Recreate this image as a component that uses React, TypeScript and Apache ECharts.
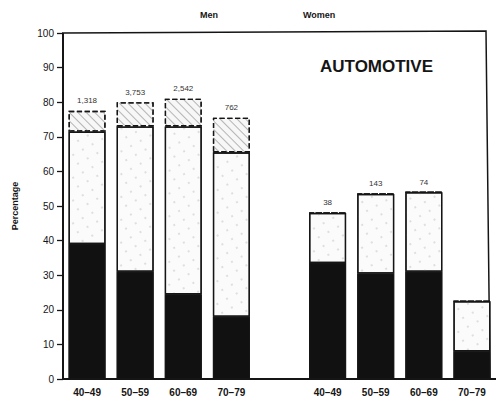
import React, { useEffect, useRef } from "react";
import * as echarts from "echarts";

const categories = ["40–49", "50–59", "60–69", "70–79", "", "40–49", "50–59", "60–69", "70–79"];
const blackValues = [39, 31, 24.5, 18, null, 33.5, 30.5, 31, 8];
const dottedValues = [32.5, 42, 48.5, 47.5, null, 14.5, 23, 23, 14.5];
const hatchedValues = [6, 7, 8, 10, null, 0, 0, 0, 0];
const topLabels = ["1,318", "3,753", "2,542", "762", "", "38", "143", "74", ""];
const yTicks = [0, 10, 20, 30, 40, 50, 60, 70, 80, 90, 100];

const FONT = "Liberation Sans, Arial, sans-serif";

export default function App() {
  const ref = useRef<HTMLDivElement>(null);
  useEffect(() => {
    if (!ref.current) return;
    const chart = echarts.init(ref.current, null, { renderer: "svg" });
    const outline = { borderColor: "#151515", borderWidth: 1.3 };
    chart.setOption({
      animation: false,
      backgroundColor: "#ffffff",
      aria: { enabled: true, decal: { show: true } },
      grid: { left: 63, top: 33, width: 436, height: 346 },
      xAxis: {
        type: "category",
        data: categories,
        axisLine: { lineStyle: { color: "#151515", width: 1.8 } },
        axisTick: {
          alignWithLabel: true,
          length: 4,
          interval: (i: number) => categories[i] !== "",
          lineStyle: { color: "#151515", width: 1.3 },
        },
        axisLabel: { color: "#151515", fontSize: 10, fontFamily: FONT, fontWeight: "bold", margin: 8 },
      },
      yAxis: {
        type: "value",
        min: yTicks[0],
        max: yTicks[yTicks.length - 1],
        interval: 10,
        name: "Percentage",
        nameLocation: "middle",
        nameGap: 44,
        nameTextStyle: { color: "#151515", fontSize: 9, fontFamily: FONT, fontWeight: "bold" },
        axisLine: { show: true, lineStyle: { color: "#151515", width: 2 } },
        axisTick: { show: true, length: 6, lineStyle: { color: "#151515", width: 1.3 } },
        splitLine: { show: false },
        axisLabel: { color: "#151515", fontSize: 10, fontFamily: FONT, margin: 9 },
      },
      series: [
        {
          type: "bar",
          stack: "s",
          barWidth: 37,
          data: blackValues,
          itemStyle: {
            color: "#111111",
            ...outline,
            decal: { symbol: "rect", color: "#111111", dashArrayX: [1, 0], dashArrayY: [1, 0] },
          },
        },
        {
          type: "bar",
          stack: "s",
          barWidth: 37,
          data: dottedValues,
          itemStyle: {
            color: "#fbfbfb",
            ...outline,
            decal: {
              symbol: "circle",
              symbolSize: 0.6,
              color: "#a5a5a5",
              dashArrayX: [[2, 9]],
              dashArrayY: [2, 8],
              rotation: -0.5,
            },
          },
        },
        {
          type: "bar",
          stack: "s",
          barWidth: 37,
          data: hatchedValues,
          itemStyle: {
            color: "#f7f7f7",
            borderColor: "#151515",
            borderWidth: 1.3,
            borderType: "dashed",
            decal: {
              symbol: "rect",
              symbolSize: 1,
              color: "#b4b4b4",
              dashArrayX: [1, 0],
              dashArrayY: [1, 5],
              rotation: Math.PI / 4,
            },
          },
        },
        {
          type: "bar",
          stack: "s",
          barWidth: 37,
          data: categories.map((c) => (c === "" ? null : 0)),
          itemStyle: { color: "transparent", borderWidth: 0, decal: { symbol: "rect", color: "transparent" } },
          label: {
            show: true,
            position: "top",
            distance: 6,
            color: "#333",
            fontSize: 8,
            fontFamily: FONT,
            formatter: (p: any) => topLabels[p.dataIndex],
          },
        },
      ],
      graphic: [
        {
          type: "polyline",
          shape: { points: [[64, 33], [486, 31], [490, 379]] },
          style: { stroke: "#151515", lineWidth: 1.5, fill: "none" },
        },
        {
          type: "text",
          left: 200,
          top: 10,
          style: { text: "Men", fontSize: 9, fontWeight: "bold", fontFamily: FONT, fill: "#151515" },
        },
        {
          type: "text",
          left: 303,
          top: 10,
          style: { text: "Women", fontSize: 9, fontWeight: "bold", fontFamily: FONT, fill: "#151515" },
        },
        {
          type: "text",
          left: 320,
          top: 58,
          style: { text: "AUTOMOTIVE", fontSize: 17, fontWeight: "bold", fontFamily: FONT, fill: "#151515" },
        },
      ],
    });
    return () => chart.dispose();
  }, []);
  return <div ref={ref} style={{ width: 496, height: 406, position: "absolute", left: 0, top: 0 }} />;
}
